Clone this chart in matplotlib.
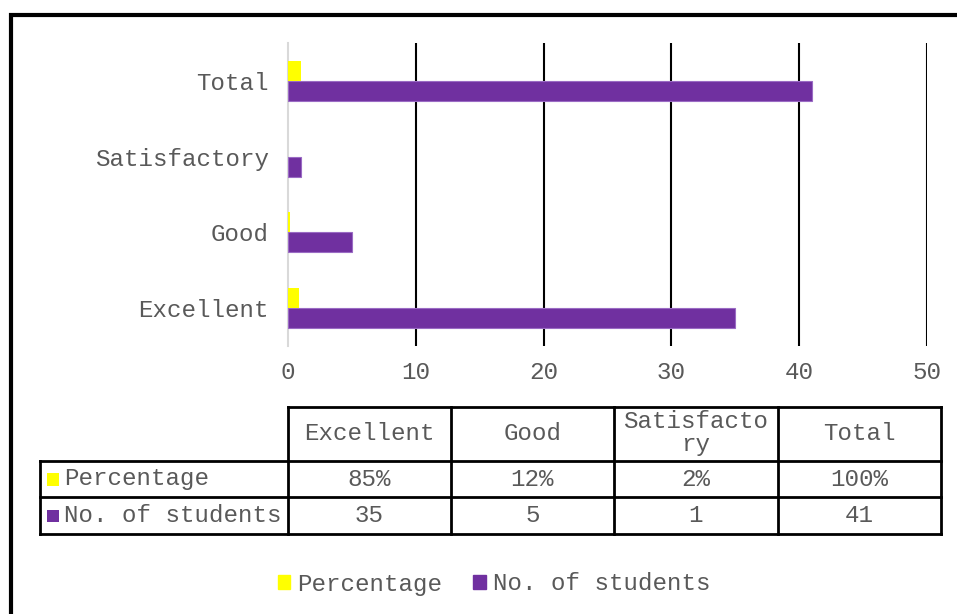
import textwrap
import matplotlib
matplotlib.use('Agg')
import matplotlib.pyplot as plt
import matplotlib.patches as patches
from matplotlib.lines import Line2D

plt.rcParams['font.family'] = ['Liberation Mono', 'DejaVu Sans Mono']

categories = ['Excellent', 'Good', 'Satisfactory', 'Total']
percentage = [0.85, 0.12, 0.02, 1.00]
students = [35, 5, 1, 41]
series_names = ['Percentage', 'No. of students']
xticks = [0, 10, 20, 30, 40, 50]

yellow = '#FFFF00'
purple = '#7030A0'
grey = '#595959'
fs = 17.4
W, H = 957, 614


def fx(x):
    return x / W


def fy(y):
    return 1 - y / H


fig = plt.figure(figsize=(9.57, 6.14), dpi=100)
ax = fig.add_axes([fx(288), fy(346), fx(927) - fx(288), fy(43) - fy(346)])

ypos = list(range(len(categories)))
h = 0.264
ax.barh([y - h / 2 for y in ypos], students, height=h, color=purple,
        edgecolor='#9a6bc4', linewidth=0.8, zorder=3)
ax.barh([y + h / 2 for y in ypos], percentage, height=h, color=yellow,
        linewidth=0, zorder=3)

ax.set_xlim(0, 50)
ax.set_ylim(-0.5, 3.5)
ax.set_xticks(xticks)
ax.set_yticks(ypos)
ax.set_yticklabels(categories)
ax.tick_params(axis='both', length=0, labelsize=fs, labelcolor=grey)
ax.tick_params(axis='y', pad=14)
ax.tick_params(axis='x', pad=11)
for t in xticks[1:]:
    ax.axvline(t, color='black', lw=1.5, zorder=1)
for s in ['top', 'right', 'bottom']:
    ax.spines[s].set_visible(False)
ax.spines['left'].set_color('#d9d9d9')
ax.spines['left'].set_linewidth(1.5)

# data table below the chart
col_x = [288, 451, 614, 778, 941]
row_y = [407, 461, 497, 534]
left_x = 40
lw = 2


def hline(x0, x1, y):
    fig.add_artist(Line2D([fx(x0), fx(x1)], [fy(y), fy(y)], color='black', lw=lw,
                          transform=fig.transFigure))


def vline(x, y0, y1):
    fig.add_artist(Line2D([fx(x), fx(x)], [fy(y0), fy(y1)], color='black', lw=lw,
                          transform=fig.transFigure))


hline(col_x[0], col_x[-1], row_y[0])
for y in row_y[1:]:
    hline(left_x, col_x[-1], y)
for x in col_x:
    vline(x, row_y[0], row_y[-1])
vline(left_x, row_y[1], row_y[-1])

for i, cat in enumerate(categories):
    cx = (col_x[i] + col_x[i + 1]) / 2
    label = '\n'.join(textwrap.wrap(cat, 10, break_long_words=True))
    fig.text(fx(cx), fy((row_y[0] + row_y[1]) / 2 - 0.5), label, ha='center', va='center',
             fontsize=fs, color=grey, linespacing=1.0)
    fig.text(fx(cx), fy((row_y[1] + row_y[2]) / 2), '{:.0%}'.format(percentage[i]),
             ha='center', va='center', fontsize=fs, color=grey)
    fig.text(fx(cx), fy((row_y[2] + row_y[3]) / 2), str(students[i]),
             ha='center', va='center', fontsize=fs, color=grey)

for j, (name, c) in enumerate(zip(series_names, [yellow, purple])):
    yc = (row_y[j + 1] + row_y[j + 2]) / 2
    fig.add_artist(patches.Rectangle((fx(47), fy(yc + 6.5)), fx(59) - fx(47), fy(yc - 6) - fy(yc + 6.5),
                                     color=c, transform=fig.transFigure, lw=0))
    fig.text(fx(64), fy(yc), name, ha='left', va='center', fontsize=fs, color=grey)

# legend
handles = [patches.Patch(color=yellow), patches.Patch(color=purple)]
fig.legend(handles, series_names, loc='center', bbox_to_anchor=(fx(494), fy(584)),
           ncol=2, frameon=False, fontsize=fs, labelcolor=grey,
           handlelength=0.5, handleheight=0.5, handletextpad=0.3, columnspacing=1.3)

# outer frame (runs off right and bottom edges)
fig.add_artist(patches.Rectangle((fx(11), -0.5), 2, fy(15) + 0.5, fill=False,
                                 edgecolor='black', lw=3, transform=fig.transFigure))

plt.savefig('out.png', dpi=100)
